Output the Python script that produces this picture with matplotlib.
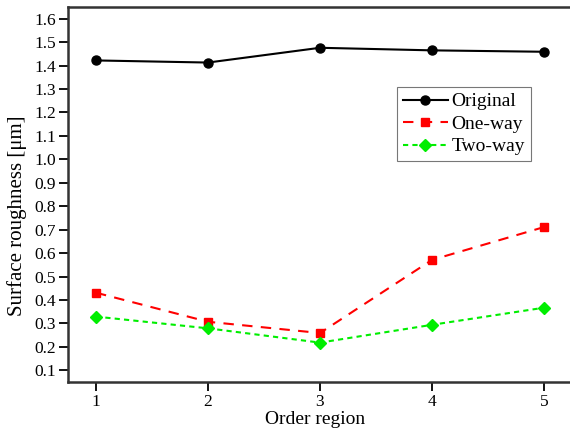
import matplotlib
matplotlib.use("Agg")
import matplotlib.pyplot as plt

regions = [1, 2, 3, 4, 5]
original = [1.422, 1.413, 1.476, 1.465, 1.459]
one_way = [0.431, 0.307, 0.259, 0.571, 0.711]
two_way = [0.329, 0.279, 0.218, 0.294, 0.367]
yticks = [0.1, 0.2, 0.3, 0.4, 0.5, 0.6, 0.7, 0.8, 0.9, 1.0, 1.1, 1.2, 1.3, 1.4, 1.5, 1.6]

plt.rcParams['font.family'] = ['Liberation Serif', 'DejaVu Serif']

fig = plt.figure(figsize=(5.7, 4.33), dpi=100)
W, H = 570, 433
ax = fig.add_axes([68 / W, 1 - 382 / H, (572 - 68) / W, (382 - 7) / H])

ax.plot(regions, original, color='black', lw=1.5, marker='o', ms=6.5, label='Original')
ax.plot(regions, one_way, color='red', lw=1.5, ls=(0, (5, 4)), marker='s', ms=5.5, label='One-way')
ax.plot(regions, two_way, color='#00ee00', lw=1.5, ls=(0, (2.5, 2)), marker='D', ms=6, label='Two-way')

ax.set_xlim(0.75, 5.25)
ax.set_ylim(0.05, 1.65)
ax.set_xticks(regions)
ax.set_yticks(yticks)
ax.set_yticklabels(["%.1f" % v for v in yticks])
ax.tick_params(direction='out', length=6.5, width=1.3, pad=2, labelsize=12.5, colors='black')
for s in ax.spines.values():
    s.set_linewidth(1.8)
    s.set_color('#333333')
ax.spines['right'].set_visible(False)

ax.set_xlabel("Order region", fontsize=14)
ax.set_ylabel("Surface roughness [μm]", fontsize=15)
ax.xaxis.set_label_coords(0.49, -0.078)
ax.yaxis.set_label_coords(-0.082, 0.443)

leg = ax.legend(loc='upper left', bbox_to_anchor=(397 / W, 1 - 87 / H), bbox_transform=fig.transFigure,
                borderaxespad=0, fancybox=False, fontsize=14, handlelength=2.3, handletextpad=0.2,
                labelspacing=0.25, borderpad=0.3, edgecolor='#555555')
leg.get_frame().set_linewidth(0.8)

fig.savefig("out.png", dpi=100)
